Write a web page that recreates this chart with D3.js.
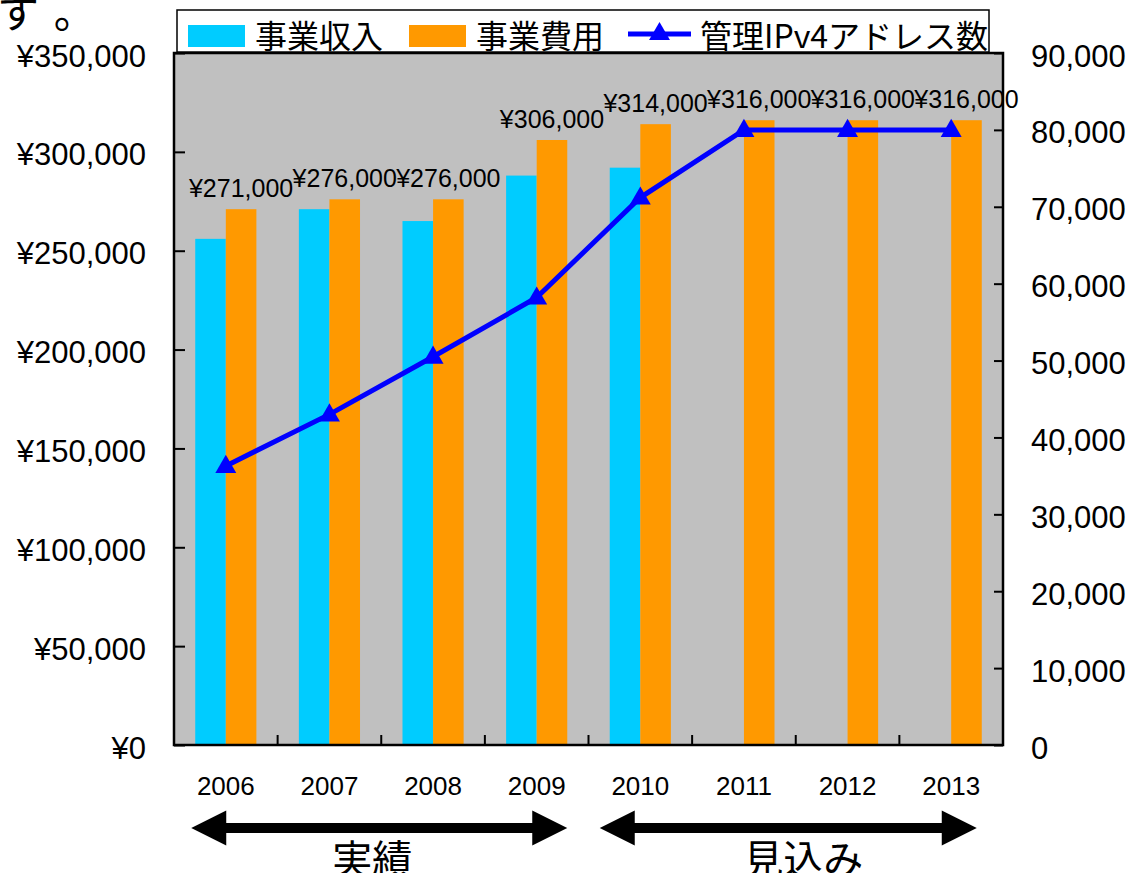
<!DOCTYPE html>
<html>
<head>
<meta charset="utf-8">
<script src="https://cdn.jsdelivr.net/npm/d3@7"></script>
<style>
	body { margin: 0; background: #fff; }
	svg { display: block; }
	text { font-family: "Liberation Sans", Arial, sans-serif; fill: #000; }
	.jp { font-family: "Noto Sans CJK JP", sans-serif; }
</style>
</head>
<body>
<svg id="chart"></svg>
<script>
// values
const years = ["2006", "2007", "2008", "2009", "2010", "2011", "2012", "2013"]
const revenue = [256000, 271000, 265000, 288000, 292000, null, null, null]
const expenses = [271000, 276000, 276000, 306000, 314000, 316000, 316000, 316000]
const addresses = [36300, 43000, 50500, 58200, 71200, 80000, 80000, 80000]
const leftTicks = [0, 50000, 100000, 150000, 200000, 250000, 300000, 350000]
const rightTicks = [0, 10000, 20000, 30000, 40000, 50000, 60000, 70000, 80000, 90000]
const legendLabels = ["事業収入", "事業費用", "管理IPv4アドレス数"]
const periods = [
	{label: "実績", from: "2006", to: "2009"},
	{label: "見込み", from: "2010", to: "2013"},
]

const width = 1130, height = 873
const margin = {top: 53, right: 127, bottom: 128, left: 174}
const plotWidth = width - margin.left - margin.right
const plotHeight = height - margin.top - margin.bottom
const cyan = "#00CCFF", orange = "#FF9900", blue = "#0000FF"

const svg = d3.select("#chart").attr("width", width).attr("height", height)

// stray text from the slide above the chart
svg.append("text").attr("class", "jp")
	.attr("x", -3).attr("y", 28)
	.attr("font-size", 42)
	.attr("letter-spacing", 19)
	.text("す。")

const x = d3.scaleBand().domain(years).range([0, plotWidth]).paddingInner(0.41).paddingOuter(0.205)
const bw = x.bandwidth()
const yL = d3.scaleLinear().domain([0, 350000]).range([plotHeight, 0])
const yR = d3.scaleLinear().domain([0, 90000]).range([plotHeight, 0])
const yen = v => "¥" + d3.format(",")(v)

const plot = svg.append("g").attr("transform", "translate(" + margin.left + "," + margin.top + ")")

plot.append("rect")
	.attr("width", plotWidth).attr("height", plotHeight)
	.attr("fill", "#C0C0C0")

// bars
plot.append("g").selectAll("rect")
	.data(years.map((d, i) => ({year: d, v: revenue[i]})).filter(d => d.v != null))
	.join("rect")
	.attr("x", d => x(d.year))
	.attr("y", d => yL(d.v))
	.attr("width", bw / 2)
	.attr("height", d => plotHeight - yL(d.v))
	.attr("fill", cyan)

plot.append("g").selectAll("rect")
	.data(years.map((d, i) => ({year: d, v: expenses[i]})))
	.join("rect")
	.attr("x", d => x(d.year) + bw / 2)
	.attr("y", d => yL(d.v))
	.attr("width", bw / 2)
	.attr("height", d => plotHeight - yL(d.v))
	.attr("fill", orange)

// axes
const axisL = plot.append("g")
	.call(d3.axisLeft(yL).tickValues(leftTicks).tickFormat(yen).tickSize(-11).tickPadding(28))
const axisR = plot.append("g")
	.attr("transform", "translate(" + plotWidth + ",0)")
	.call(d3.axisRight(yR).tickValues(rightTicks).tickFormat(d3.format(",")).tickSize(-9).tickPadding(28))
const axisB = plot.append("g")
	.attr("transform", "translate(0," + plotHeight + ")")
	.call(d3.axisBottom(x).tickSize(0).tickPadding(32))
for (const a of [axisL, axisR, axisB]) {
	a.select(".domain").remove()
	a.selectAll("line").attr("stroke", "#000").attr("stroke-width", 2)
	a.selectAll("text").attr("fill", "#000").attr("font-family", "'Liberation Sans', Arial, sans-serif")
}
axisL.selectAll("text").attr("font-size", 31).attr("dy", "0.42em")
axisR.selectAll("text").attr("font-size", 31).attr("dy", "0.42em")
axisB.selectAll("text").attr("font-size", 26)

// category separators
plot.append("g").selectAll("line")
	.data(years.slice(1))
	.join("line")
	.attr("x1", d => x(d) - x.step() * x.paddingInner() / 2)
	.attr("x2", d => x(d) - x.step() * x.paddingInner() / 2)
	.attr("y1", plotHeight).attr("y2", plotHeight - 10)
	.attr("stroke", "#000").attr("stroke-width", 2)

plot.append("rect")
	.attr("width", plotWidth).attr("height", plotHeight)
	.attr("fill", "none").attr("stroke", "#000").attr("stroke-width", 2.5)

// line series
const cx = d => x(d) + bw / 2
const line = d3.line().x(d => cx(d.year)).y(d => yR(d.v))
const lineData = years.map((d, i) => ({year: d, v: addresses[i]}))
plot.append("path")
	.datum(lineData)
	.attr("fill", "none")
	.attr("stroke", blue)
	.attr("stroke-width", 5)
	.attr("d", line)
const tri = d3.symbol(d3.symbolTriangle).size(190)
plot.append("g").selectAll("path")
	.data(lineData)
	.join("path")
	.attr("transform", d => "translate(" + cx(d.year) + "," + (yR(d.v) + 1) + ")")
	.attr("d", tri)
	.attr("fill", blue)

// data labels over the expense bars
plot.append("g").selectAll("text")
	.data(years.map((d, i) => ({year: d, v: expenses[i]})))
	.join("text")
	.attr("x", d => x(d.year) + bw * 0.75)
	.attr("y", d => yL(d.v) - 12)
	.attr("text-anchor", "middle")
	.attr("font-size", 25)
	.text(d => yen(d.v))

// legend
const legend = svg.append("g").attr("transform", "translate(177,10)")
legend.append("rect")
	.attr("width", 812).attr("height", 42)
	.attr("fill", "#fff").attr("stroke", "#000").attr("stroke-width", 1.5)
const legendItems = [
	{x: 11, type: "bar", color: cyan},
	{x: 232, type: "bar", color: orange},
	{x: 451, type: "line", color: blue},
]
legendItems.forEach((it, i) => {
	const g = legend.append("g").attr("transform", "translate(" + it.x + ",0)")
	if (it.type === "bar") {
		g.append("rect").attr("y", 15).attr("width", 57).attr("height", 22).attr("fill", it.color)
	} else {
		g.append("line").attr("x1", 0).attr("x2", 63).attr("y1", 24).attr("y2", 24)
			.attr("stroke", it.color).attr("stroke-width", 5)
		g.append("path").attr("transform", "translate(31.5,24)").attr("d", tri).attr("fill", it.color)
	}
	g.append("text").attr("class", "jp")
		.attr("x", it.type === "bar" ? 67 : 72)
		.attr("y", 38)
		.attr("font-size", 32)
		.text(legendLabels[i])
})

// period arrows under the axis
const arrowY = margin.top + plotHeight + 83
const shaft = 5, head = 17.5, headLen = 35
periods.forEach((p, i) => {
	const x0 = margin.left + x(p.from) - (i === 0 ? 4 : 10)
	const x1 = margin.left + x(p.to) + bw - (i === 0 ? 0 : 5)
	const pts = [
		[x0, arrowY],
		[x0 + headLen, arrowY - head],
		[x0 + headLen, arrowY - shaft],
		[x1 - headLen, arrowY - shaft],
		[x1 - headLen, arrowY - head],
		[x1, arrowY],
		[x1 - headLen, arrowY + head],
		[x1 - headLen, arrowY + shaft],
		[x0 + headLen, arrowY + shaft],
		[x0 + headLen, arrowY + head],
	]
	svg.append("path").attr("d", "M" + pts.join("L") + "Z").attr("fill", "#000")
	svg.append("text").attr("class", "jp")
		.attr("x", (x0 + x1) / 2 + (i === 0 ? -7 : 15))
		.attr("y", arrowY + 46)
		.attr("text-anchor", "middle")
		.attr("font-size", 40)
		.text(p.label)
})
</script>
</body>
</html>
